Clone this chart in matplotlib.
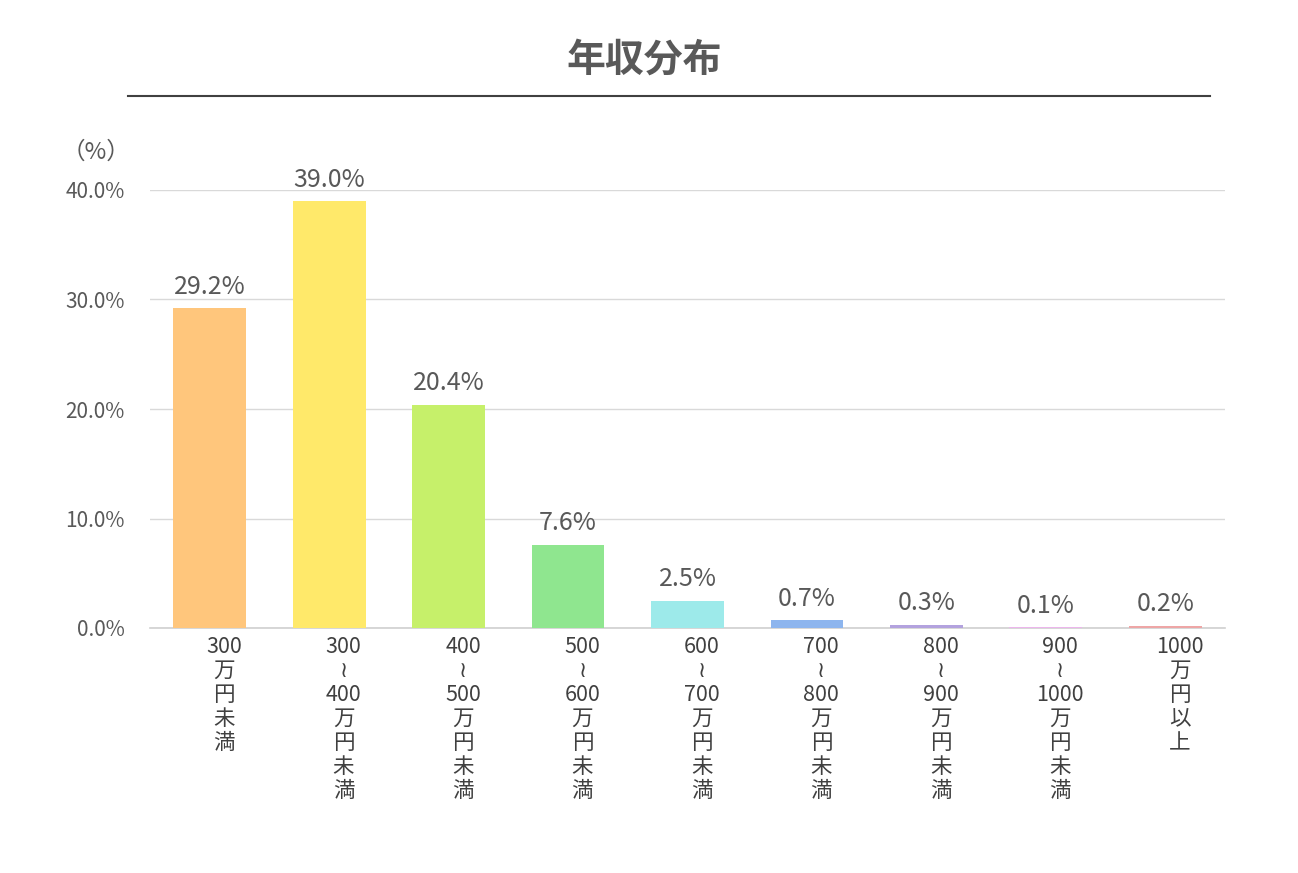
import matplotlib
matplotlib.use("Agg")
import matplotlib.pyplot as plt
import matplotlib.transforms as mtransforms

plt.rcParams['font.family'] = ['Noto Sans CJK JP', 'DejaVu Sans']

title = "年収分布"
categories = [
    "300\n万\n円\n未\n満",
    "300\n≀\n400\n万\n円\n未\n満",
    "400\n≀\n500\n万\n円\n未\n満",
    "500\n≀\n600\n万\n円\n未\n満",
    "600\n≀\n700\n万\n円\n未\n満",
    "700\n≀\n800\n万\n円\n未\n満",
    "800\n≀\n900\n万\n円\n未\n満",
    "900\n≀\n1000\n万\n円\n未\n満",
    "1000\n万\n円\n以\n上",
]
values = [29.2, 39.0, 20.4, 7.6, 2.5, 0.7, 0.3, 0.1, 0.2]
colors = ["#FFC67C", "#FFE96A", "#C6F06A", "#8FE68F", "#9DEAEA",
          "#8DB5EE", "#B3A2DE", "#ECB6EC", "#EEA6A6"]
yticks = [0, 10, 20, 30, 40]

fig = plt.figure(figsize=(12.98, 8.73), dpi=100)
ax = fig.add_axes([150/1298, 1-628/873, 1075/1298, (628-190)/873])

x = list(range(len(values)))
ax.bar(x, values, width=0.61, color=colors, zorder=3)
ax.set_xlim(-0.5, len(values) - 0.5)
ax.set_ylim(0, 40)
ax.set_yticks(yticks)
ax.set_yticklabels([f"{v:.1f}%" for v in yticks], color="#595959", fontsize=15)
ax.tick_params(axis='y', length=0, pad=18)
ax.tick_params(axis='x', length=0)
ax.set_xticks([])
ax.grid(axis='y', color="#D9D9D9", linewidth=1, zorder=0)
for s in ['top', 'right', 'left']:
    ax.spines[s].set_visible(False)
ax.spines['bottom'].set_color("#D0D0D0")
ax.spines['bottom'].set_linewidth(1.2)

for xi, v in zip(x, values):
    ax.annotate(f"{v:.1f}%", (xi, v), xytext=(0, 6), textcoords="offset points",
                ha='center', va='bottom', fontsize=18, color="#595959",
                annotation_clip=False)

trans = mtransforms.blended_transform_factory(ax.transData, ax.transAxes)
for xi, lab in zip(x, categories):
    ax.text(xi + 0.12, -0.018, lab, transform=trans, ha='center', va='top',
            fontsize=15.5, color="#404040", linespacing=1.12, multialignment='center')

fig.text(644/1298, 1-60/873, title, ha='center', va='center', fontsize=28,
         fontweight='bold', color="#595959")
fig.add_artist(plt.Line2D([128/1298, 1210/1298], [1-96/873, 1-96/873],
                          color="#404040", linewidth=1.5))
fig.text(96/1298, 1-152/873, "（%）", ha='center', va='center', fontsize=17,
         color="#595959")

fig.savefig("out.png", dpi=100)
